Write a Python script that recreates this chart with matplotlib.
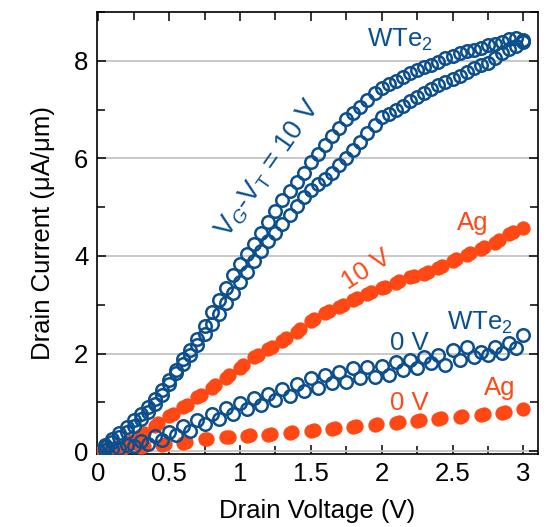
import numpy as np
import matplotlib
matplotlib.use("Agg")
import matplotlib.pyplot as plt
from matplotlib.ticker import MultipleLocator

plt.rcParams['font.family'] = ['Liberation Sans', 'DejaVu Sans']
plt.rcParams['mathtext.fontset'] = 'custom'
plt.rcParams['mathtext.rm'] = 'Liberation Sans'
plt.rcParams['mathtext.it'] = 'Liberation Sans:italic'

# ---------------- data ----------------
# WTe2, VG-VT = 10 V (two sweep branches)
v_wte2_10 = np.round(np.arange(0, 3.0001, 0.05), 3)
i_wte2_10_a = [0.00, 0.12, 0.25, 0.38, 0.50, 0.63, 0.76, 0.90, 1.06, 1.25,
               1.45, 1.67, 1.88, 2.08, 2.30, 2.57, 2.85, 3.10, 3.35, 3.60,
               3.83, 4.04, 4.25, 4.47, 4.69, 4.93, 5.15, 5.34, 5.52, 5.71,
               5.92, 6.10, 6.28, 6.45, 6.63, 6.80, 6.93, 7.06, 7.20, 7.35,
               7.45, 7.52, 7.58, 7.68, 7.75, 7.82, 7.88, 7.92, 7.98, 8.05,
               8.10, 8.16, 8.20, 8.22, 8.27, 8.33, 8.34, 8.38, 8.45, 8.47, 8.42]
i_wte2_10_b = [0.00, 0.08, 0.18, 0.28, 0.40, 0.52, 0.65, 0.80, 0.97, 1.15,
               1.38, 1.60, 1.78, 1.97, 2.17, 2.40, 2.60, 2.82, 3.04, 3.25,
               3.46, 3.68, 3.90, 4.10, 4.30, 4.48, 4.66, 4.84, 5.02, 5.20,
               5.35, 5.47, 5.58, 5.70, 5.86, 6.00, 6.18, 6.34, 6.52, 6.68,
               6.85, 6.92, 7.00, 7.08, 7.17, 7.26, 7.34, 7.42, 7.50, 7.56,
               7.62, 7.70, 7.77, 7.86, 7.92, 7.95, 8.06, 8.16, 8.24, 8.30, 8.38]

# WTe2, 0 V (two sweep branches)
v_wte2_0_a = np.round(np.arange(0, 3.0001, 0.1), 3)
i_wte2_0_a = [0.00, 0.05, 0.12, 0.20, 0.30, 0.40, 0.52, 0.64, 0.76, 0.88,
              0.98, 1.08, 1.18, 1.28, 1.38, 1.49, 1.56, 1.62, 1.70, 1.72,
              1.74, 1.82, 1.86, 1.93, 1.97, 2.07, 2.13, 2.03, 2.13, 2.21, 2.38]
v_wte2_0_b = np.round(np.arange(0.05, 3.0, 0.1), 3)
i_wte2_0_b = [0.02, 0.06, 0.10, 0.15, 0.22, 0.32, 0.42, 0.55, 0.66, 0.76,
              0.86, 0.95, 1.04, 1.12, 1.24, 1.29, 1.39, 1.42, 1.50, 1.51,
              1.57, 1.66, 1.70, 1.80, 1.76, 1.86, 1.93, 1.97, 2.01, 2.11]

# Ag, 10 V (forward / reverse sweeps nearly overlapping)
v_ag_10_a = np.round(np.arange(0, 3.0001, 0.1), 3)
i_ag_10_a = [0.00, 0.05, 0.14, 0.33, 0.52, 0.71, 0.90, 1.10, 1.30, 1.50,
             1.71, 1.92, 2.10, 2.26, 2.45, 2.66, 2.84, 2.96, 3.09, 3.23,
             3.34, 3.45, 3.56, 3.64, 3.76, 3.89, 4.02, 4.15, 4.26, 4.45, 4.58]
v_ag_10_b = np.round(np.arange(0.025, 3.0, 0.1), 3)
i_ag_10_b = [0.03, 0.08, 0.20, 0.38, 0.57, 0.76, 0.95, 1.15, 1.35, 1.56,
             1.77, 1.97, 2.14, 2.31, 2.51, 2.71, 2.87, 2.99, 3.13, 3.26,
             3.37, 3.48, 3.58, 3.68, 3.80, 3.93, 4.06, 4.18, 4.32, 4.50]

# Ag, 0 V
v_ag_0_a = np.round(np.arange(0, 3.0001, 0.15), 3)
i_ag_0_a = [0.00, 0.04, 0.09, 0.13, 0.17, 0.24, 0.28, 0.31, 0.33, 0.37,
            0.41, 0.46, 0.49, 0.53, 0.57, 0.61, 0.65, 0.70, 0.74, 0.79, 0.87]
v_ag_0_b = np.round(np.arange(0.02, 3.0, 0.15), 3)
i_ag_0_b = [0.01, 0.05, 0.10, 0.14, 0.19, 0.25, 0.29, 0.32, 0.35, 0.39,
            0.43, 0.47, 0.51, 0.55, 0.59, 0.63, 0.67, 0.72, 0.76, 0.81]

BLUE = "#0c4f8f"
ORANGE = "#ff4814"

fig = plt.figure(figsize=(5.47, 5.27), dpi=100)
ax = fig.add_axes([0.177, 0.1385, 0.807, 0.8385])

# Ag filled
for v, i in [(v_ag_10_a, i_ag_10_a), (v_ag_10_b, i_ag_10_b),
             (v_ag_0_a, i_ag_0_a), (v_ag_0_b, i_ag_0_b)]:
    ax.plot(v, i, 'o', ms=10.3, color=ORANGE, mec=ORANGE, mew=0, zorder=3)

# WTe2 open
for v, i in [(v_wte2_10, i_wte2_10_a), (v_wte2_10, i_wte2_10_b),
             (v_wte2_0_a, i_wte2_0_a), (v_wte2_0_b, i_wte2_0_b)]:
    ax.plot(v, i, 'o', ms=9.0, mfc='none', mec=BLUE, mew=1.8, zorder=4)

ax.set_xlim(-0.01, 3.105)
ax.set_ylim(-0.06, 9.0)
ax.xaxis.set_minor_locator(MultipleLocator(0.25))
ax.yaxis.set_minor_locator(MultipleLocator(1))
ax.set_xticks([0, 0.5, 1, 1.5, 2, 2.5, 3])
ax.set_xticklabels(['0', '0.5', '1', '1.5', '2', '2.5', '3'])
ax.set_yticks([0, 2, 4, 6, 8])
ax.set_yticklabels(['0', '2', '4', '6', '8'])
ax.tick_params(which='both', direction='in', top=True, right=True,
               labelsize=18.5, width=1.1, pad=6)
ax.tick_params(which='major', length=6.5)
ax.tick_params(which='minor', length=6)
ax.grid(axis='y', which='major', color='#c4c4c4', lw=1.3, zorder=0)
ax.set_axisbelow(True)
for s in ax.spines.values():
    s.set_linewidth(1.2)

ax.set_xlabel('Drain Voltage (V)', fontsize=18.5, labelpad=9)
ax.set_ylabel('Drain Current (μA/μm)', fontsize=18.5, labelpad=14)

fs = 18.5
ax.text(1.90, 8.28, 'WTe$_2$', color=BLUE, fontsize=fs, ha='left', va='baseline')
ax.text(1.20, 5.80, 'V$_{\\mathit{G}}$-V$_{\\mathrm{T}}$ = 10 V', color=BLUE,
        fontsize=19.5, rotation=55, rotation_mode='anchor', ha='center', va='center')
ax.text(2.53, 4.53, 'Ag', color=ORANGE, fontsize=fs, ha='left', va='baseline')
ax.text(1.89, 3.72, '10 V', color=ORANGE, fontsize=fs, rotation=33,
        rotation_mode='anchor', ha='center', va='center')
ax.text(2.46, 2.48, 'WTe$_2$', color=BLUE, fontsize=fs, ha='left', va='baseline')
ax.text(2.06, 2.07, '0 V', color=BLUE, fontsize=fs, ha='left', va='baseline')
ax.text(2.72, 1.15, 'Ag', color=ORANGE, fontsize=fs, ha='left', va='baseline')
ax.text(2.06, 0.84, '0 V', color=ORANGE, fontsize=fs, ha='left', va='baseline')

fig.savefig('out.png', dpi=100)
